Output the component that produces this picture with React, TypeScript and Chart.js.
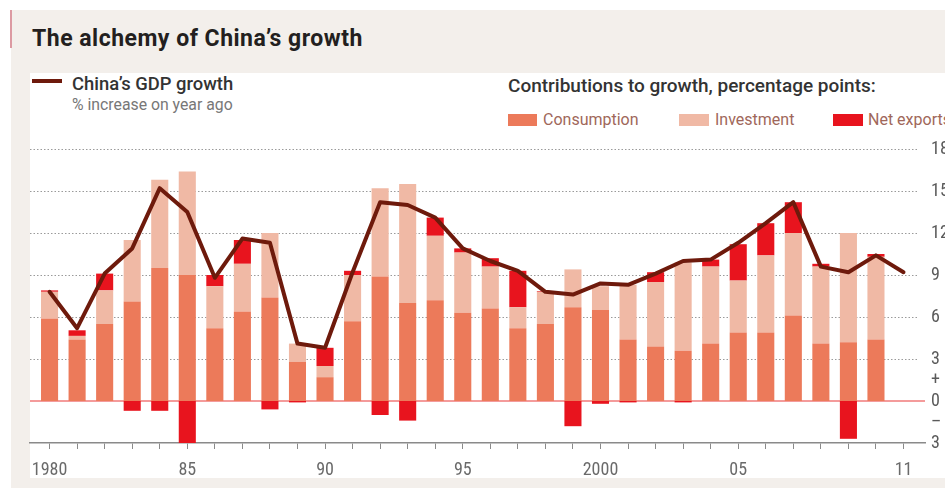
import React, { useEffect, useRef } from 'react';
import { Chart, registerables } from 'chart.js';

Chart.register(...registerables);

// ---- Data ----
const years = [
  1980, 1981, 1982, 1983, 1984, 1985, 1986, 1987, 1988, 1989,
  1990, 1991, 1992, 1993, 1994, 1995, 1996, 1997, 1998, 1999,
  2000, 2001, 2002, 2003, 2004, 2005, 2006, 2007, 2008, 2009,
  2010, 2011,
];
const barYears = [
  1980, 1981, 1982, 1983, 1984, 1985, 1986, 1987, 1988, 1989,
  1990, 1991, 1992, 1993, 1994, 1995, 1996, 1997, 1998, 1999,
  2000, 2001, 2002, 2003, 2004, 2005, 2006, 2007, 2008, 2009,
  2010,
];
const consumption = [
  5.9, 4.4, 5.5, 7.1, 9.5, 9.0, 5.2, 6.4, 7.4, 2.8,
  1.7, 5.7, 8.9, 7.0, 7.2, 6.3, 6.6, 5.2, 5.5, 6.7,
  6.5, 4.4, 3.9, 3.6, 4.1, 4.9, 4.9, 6.1, 4.1, 4.2,
  4.4,
];
const investment = [
  1.9, 0.25, 2.4, 4.4, 6.3, 7.4, 3.0, 3.4, 4.6, 1.3,
  0.8, 3.3, 6.3, 8.5, 4.6, 4.3, 3.0, 1.5, 2.3, 2.7,
  1.7, 3.9, 4.6, 6.3, 5.5, 3.7, 5.5, 5.9, 5.5, 7.8,
  5.9,
];
const netExports = [
  0.1, 0.4, 1.2, -0.7, -0.7, -3.0, 0.8, 1.7, -0.6, -0.1,
  1.3, 0.3, -1.0, -1.4, 1.3, 0.3, 0.6, 2.6, 0.05, -1.8,
  -0.2, -0.1, 0.7, -0.1, 0.5, 2.6, 2.3, 2.2, 0.2, -2.7,
  0.2,
];
const gdpGrowth = [
  7.8, 5.2, 9.1, 10.9, 15.2, 13.5, 8.8, 11.6, 11.3, 4.1,
  3.8, 9.2, 14.2, 14.0, 13.1, 10.9, 10.0, 9.3, 7.8, 7.6,
  8.4, 8.3, 9.1, 10.0, 10.1, 11.3, 12.7, 14.2, 9.6, 9.2,
  10.4, 9.2,
];
const xLabelYears = [1980, 1985, 1990, 1995, 2000, 2005, 2011];
const xLabelTexts = ['1980', '85', '90', '95', '2000', '05', '11'];
const yTickValues = [-3, -1.5, 0, 1.5, 3, 6, 9, 12, 15, 18];
const yGridValues = [3, 6, 9, 12, 15, 18];

const COL_CONS = '#ec7a5a';
const COL_INV = '#f0b9a5';
const COL_NET = '#e8141e';
const COL_LINE = '#6e1a0c';
const BEIGE = '#f3efeb';
const NUM_FONT = "'Liberation Sans Narrow', 'Roboto Condensed', Roboto, sans-serif";

const gridPlugin = {
  id: 'econGrid',
  beforeDatasetsDraw(chart: any) {
    const { ctx, chartArea, scales } = chart;
    const y = scales.y;
    ctx.save();
    ctx.strokeStyle = '#9a9a9a';
    ctx.lineWidth = 1;
    ctx.setLineDash([1.5, 2]);
    yGridValues.forEach((v) => {
      const py = Math.round(y.getPixelForValue(v)) + 0.5;
      ctx.beginPath();
      ctx.moveTo(chartArea.left, py);
      ctx.lineTo(chartArea.right - 7, py);
      ctx.stroke();
    });
    ctx.setLineDash([]);
    ctx.strokeStyle = '#f07a7a';
    ctx.lineWidth = 1.5;
    const y0 = y.getPixelForValue(0);
    ctx.beginPath();
    ctx.moveTo(chartArea.left, y0);
    ctx.lineTo(chartArea.right, y0);
    ctx.stroke();
    ctx.restore();
  },
};

function App() {
  const canvasRef = useRef<HTMLCanvasElement | null>(null);

  useEffect(() => {
    document.body.style.margin = '0';
    const canvas = canvasRef.current;
    if (!canvas) return;
    const barCommon = {
      type: 'bar' as const,
      stack: 'c',
      order: 1,
      barPercentage: 0.62,
      categoryPercentage: 1,
      borderWidth: 0,
    };
    const chart = new Chart(canvas, {
      data: {
        datasets: [
          {
            type: 'line',
            label: 'China’s GDP growth',
            data: gdpGrowth.map((v, i) => ({ x: years[i], y: v })),
            borderColor: COL_LINE,
            borderWidth: 4,
            pointRadius: 0,
            tension: 0,
            stack: 'gdp',
            order: 0,
            borderJoinStyle: 'round',
            borderCapStyle: 'round',
          } as any,
          { ...barCommon, label: 'Consumption', data: consumption.map((v, i) => ({ x: barYears[i], y: v })), backgroundColor: COL_CONS } as any,
          { ...barCommon, label: 'Investment', data: investment.map((v, i) => ({ x: barYears[i], y: v })), backgroundColor: COL_INV } as any,
          { ...barCommon, label: 'Net exports', data: netExports.map((v, i) => ({ x: barYears[i], y: v })), backgroundColor: COL_NET } as any,
        ],
      },
      options: {
        responsive: false,
        animation: false,
        layout: { padding: { left: 30, top: 149, right: 0, bottom: 0 } },
        plugins: { legend: { display: false }, tooltip: { enabled: false } },
        scales: {
          x: {
            type: 'linear',
            offset: false,
            min: 1979.29,
            max: 2011.78,
            afterBuildTicks: (scale: any) => {
              scale.ticks = years.map((value) => ({ value }));
            },
            afterFit: (scale: any) => {
              scale.height = 45;
            },
            grid: { display: true, offset: false, drawOnChartArea: false, drawTicks: true, tickLength: 6, color: '#8a8a8a', lineWidth: 1 },
            border: { display: true, color: '#8a8a8a', width: 1.5 },
            ticks: {
              autoSkip: false,
              maxRotation: 0,
              padding: 11,
              color: '#6a6a6a',
              font: { family: NUM_FONT, size: 18 },
              callback: (value: any) => {
                const idx = xLabelYears.indexOf(Number(value));
                return idx >= 0 ? xLabelTexts[idx] : '';
              },
            },
          },
          y: {
            position: 'right',
            stacked: true,
            min: -3,
            max: 18,
            afterBuildTicks: (scale: any) => {
              scale.ticks = yTickValues.map((value) => ({ value }));
            },
            afterFit: (scale: any) => {
              scale.width = 20;
            },
            grid: { display: false, drawTicks: false },
            border: { display: false },
            ticks: {
              padding: 6,
              color: '#5a5a5a',
              font: { family: NUM_FONT, size: 18 },
              callback: (value: any) => {
                const v = Number(value);
                if (v === 1.5) return '+';
                if (v === -1.5) return '–';
                return String(Math.abs(v));
              },
            },
          },
        },
      } as any,
      plugins: [gridPlugin],
    });
    return () => {
      chart.destroy();
    };
  }, []);

  const abs = (s: React.CSSProperties): React.CSSProperties => ({ position: 'absolute', ...s });

  return (
    <div style={{ position: 'relative', width: 945, height: 488, background: '#ffffff', overflow: 'hidden', fontFamily: 'Roboto, sans-serif' }}>
      <div style={abs({ left: 11, top: 10, right: 0, height: 63, background: BEIGE })} />
      <div style={abs({ left: 11, top: 73, width: 19, height: 405, background: BEIGE })} />
      <div style={abs({ left: 11, top: 478, right: 0, height: 10, background: BEIGE })} />
      <div style={abs({ left: 10, top: 10, width: 2, height: 38, background: '#dc9aa2' })} />
      <div style={abs({ left: 32, top: 27, fontSize: 23, lineHeight: '23px', fontWeight: 700, letterSpacing: 0.5, color: '#231f20', whiteSpace: 'nowrap' })}>
        The alchemy of China’s growth
      </div>
      <div style={abs({ left: 32, top: 79, width: 30, height: 4, background: COL_LINE })} />
      <div style={abs({ left: 72, top: 75, fontSize: 18.4, lineHeight: '18.4px', fontWeight: 500, color: '#333', whiteSpace: 'nowrap' })}>
        China’s GDP growth
      </div>
      <div style={abs({ left: 72, top: 97, fontSize: 15.8, lineHeight: '15.8px', color: '#777', whiteSpace: 'nowrap' })}>
        % increase on year ago
      </div>
      <div style={abs({ left: 508, top: 76, fontSize: 19, lineHeight: '19px', fontWeight: 500, color: '#333', whiteSpace: 'nowrap' })}>
        Contributions to growth, percentage points:
      </div>
      <div style={abs({ left: 508, top: 114, width: 29, height: 12, background: COL_CONS })} />
      <div style={abs({ left: 543, top: 112, fontSize: 16, lineHeight: '16px', color: '#a0675a', whiteSpace: 'nowrap' })}>Consumption</div>
      <div style={abs({ left: 679, top: 114, width: 30, height: 12, background: COL_INV })} />
      <div style={abs({ left: 715, top: 112, fontSize: 16, lineHeight: '16px', color: '#a0675a', whiteSpace: 'nowrap' })}>Investment</div>
      <div style={abs({ left: 833, top: 114, width: 30, height: 12, background: COL_NET })} />
      <div style={abs({ left: 868, top: 112, fontSize: 16, lineHeight: '16px', color: '#a0675a', whiteSpace: 'nowrap' })}>Net exports</div>
      <canvas ref={canvasRef} width={945} height={488} style={abs({ left: 0, top: 0, width: 945, height: 488 })} />
    </div>
  );
}

export default App;
